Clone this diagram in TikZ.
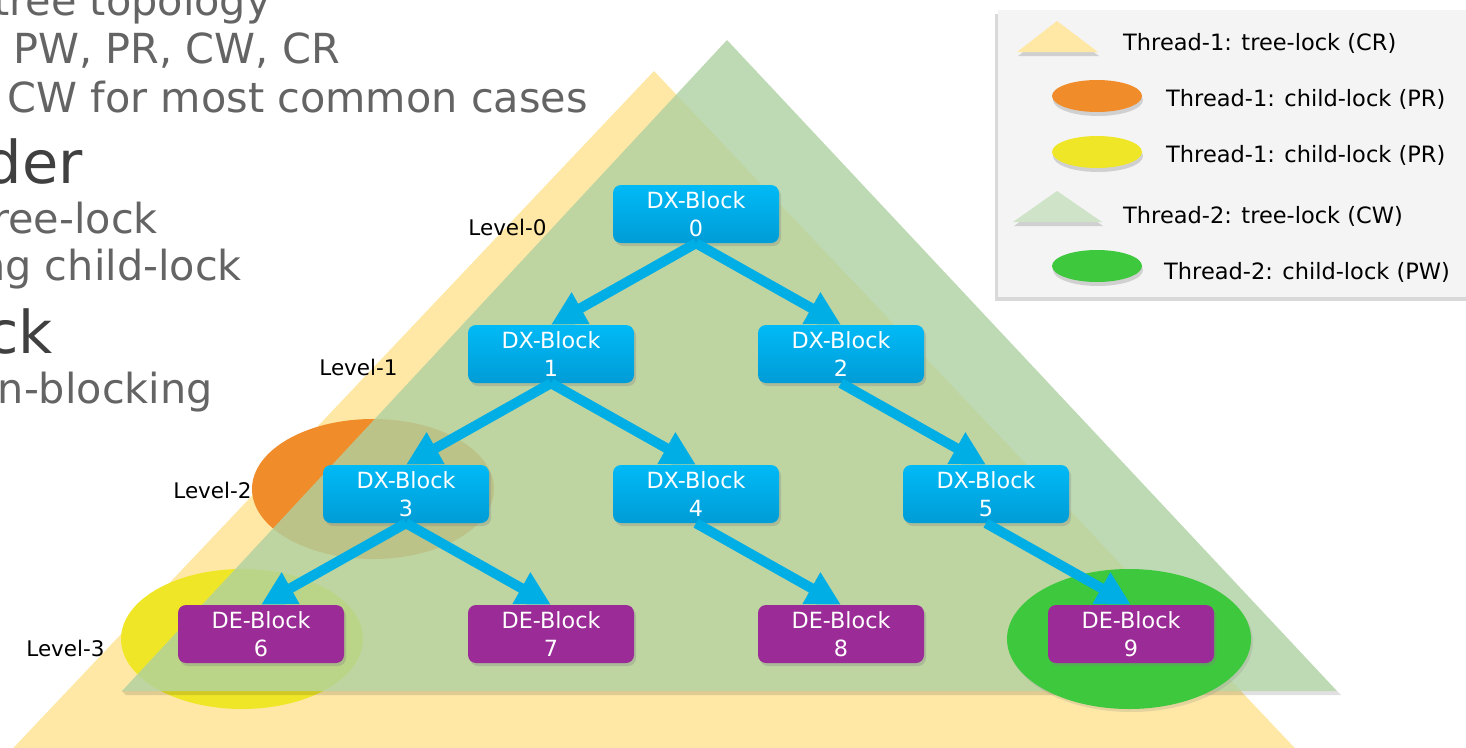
\documentclass[tikz,border=0pt]{standalone}
\usepackage{fontspec}
\setmainfont{DejaVu Sans}
\usetikzlibrary{positioning}
\usetikzlibrary{shadows}
\usetikzlibrary{arrows.meta}

\definecolor{treeyellow}{RGB}{255,232,166}
\definecolor{treegreen}{RGB}{174,209,161}
\definecolor{lockorange}{RGB}{240,140,42}
\definecolor{lockyellow}{RGB}{240,230,40}
\definecolor{lockgreen}{RGB}{62,200,62}
\definecolor{dxtop}{RGB}{0,186,246}
\definecolor{dxbot}{RGB}{0,156,214}
\definecolor{depurple}{RGB}{155,43,150}
\definecolor{arrowblue}{RGB}{0,174,230}
\definecolor{slidegray}{RGB}{100,100,100}
\definecolor{slidedark}{RGB}{64,64,64}
\definecolor{legendgray}{RGB}{244,244,244}

\tikzset{
    block/.style={rectangle, rounded corners=8pt, on grid, minimum width=166pt, minimum height=58pt,
        align=center, text=white, font=\fontsize{22.3}{28}\selectfont,
        drop shadow={shadow xshift=2pt, shadow yshift=-3pt, opacity=0.3}},
    dxblock/.style={block, top color=dxtop, bottom color=dxbot},
    deblock/.style={block, fill=depurple},
    treearrow/.style={draw=arrowblue, line width=10pt, -{Triangle[width=34pt,length=34pt]}},
    levellabel/.style={inner sep=0pt, font=\fontsize{21.5}{26}\selectfont},
    legendtext/.style={inner sep=0pt, anchor=base west, font=\fontsize{22.5}{27}\selectfont},
    legendshadow/.style={drop shadow={shadow xshift=1pt, shadow yshift=-4pt, opacity=0.3}},
    slidetext/.style={inner sep=0pt, anchor=base east, text=slidegray, font=\fontsize{41.4}{48}\selectfont},
    slidehead/.style={inner sep=0pt, anchor=base east, text=slidedark, font=\fontsize{59}{70}\selectfont},
}

\begin{document}
\begin{tikzpicture}[x=1pt, y=1pt, node distance=140pt and 145pt]
    \useasboundingbox (0,0) rectangle (1466,-747);
    \clip (0,0) rectangle (1466,-747);

    % text of the slide behind
    \node[slidetext] (s1) at (271,-15) {tree topology};
    \node[slidetext] (s2) at (340,-63) {PW, PR, CW, CR};
    \node[slidetext] (s3) at (588,-112) {CW for most common cases};
    \node[slidehead] (s4) at (83,-183) {der};
    \node[slidetext] (s5) at (158,-233) {ree-lock};
    \node[slidetext] (s6) at (242,-280) {ng child-lock};
    \node[slidehead] (s7) at (53,-353) {ck};
    \node[slidetext] (s8) at (213,-403) {n-blocking};

    % locks
    \fill[treeyellow] (654,-71) -- (1308,-762) -- (0,-762) -- cycle;
    \fill[lockorange] (373,-489) ellipse [x radius=121, y radius=70];
    \fill[lockyellow] (242,-639) ellipse [x radius=121, y radius=70];
    \fill[black, opacity=0.12] (122,-691) -- (1337,-691) -- (1341,-695) -- (126,-695) -- cycle;
    \fill[treegreen, fill opacity=0.8] (727,-40) -- (1337,-691) -- (122,-691) -- cycle;
    \fill[lockgreen, drop shadow={shadow xshift=2pt, shadow yshift=-3pt, opacity=0.2}] (1129,-639) ellipse [x radius=122, y radius=70];

    % legend
    \node[fill=legendgray, minimum width=480pt, minimum height=287pt, anchor=north west,
        drop shadow={shadow xshift=-3pt, shadow yshift=-4pt, opacity=0.3}] (legend) at (998,-10) {};
    \fill[treeyellow, legendshadow] (1017,-52) -- (1098,-52) -- (1057,-21) -- cycle;
    \fill[lockorange, legendshadow] (1097,-96) ellipse [x radius=45, y radius=16];
    \fill[lockyellow, legendshadow] (1097,-152) ellipse [x radius=45, y radius=16];
    \fill[treegreen!60!white, legendshadow] (1013,-222) -- (1102,-222) -- (1057,-191) -- cycle;
    \fill[lockgreen, legendshadow] (1097,-266) ellipse [x radius=45, y radius=16];
    \node[legendtext] (leg1) at (1123,-50) {Thread-1: tree-lock (CR)};
    \node[legendtext] (leg2) at (1166,-106) {Thread-1: child-lock (PR)};
    \node[legendtext] (leg3) at (1166,-162) {Thread-1: child-lock (PR)};
    \node[legendtext] (leg4) at (1123,-223) {Thread-2: tree-lock (CW)};
    \node[legendtext] (leg5) at (1164,-279) {Thread-2: child-lock (PW)};

    % blocks
    \node[dxblock] (dx0) at (696,-214) {DX-Block\\0};
    \node[dxblock, below left=of dx0] (dx1) {DX-Block\\1};
    \node[dxblock, below right=of dx0] (dx2) {DX-Block\\2};
    \node[dxblock, below left=of dx1] (dx3) {DX-Block\\3};
    \node[dxblock, below right=of dx1] (dx4) {DX-Block\\4};
    \node[dxblock, below right=of dx2] (dx5) {DX-Block\\5};
    \node[deblock, below left=of dx3] (de6) {DE-Block\\6};
    \node[deblock, below right=of dx3] (de7) {DE-Block\\7};
    \node[deblock, below right=of dx4] (de8) {DE-Block\\8};
    \node[deblock, below right=of dx5] (de9) {DE-Block\\9};

    \draw[treearrow] (dx0.south) -- (dx1.north);
    \draw[treearrow] (dx0.south) -- (dx2.north);
    \draw[treearrow] (dx1.south) -- (dx3.north);
    \draw[treearrow] (dx1.south) -- (dx4.north);
    \draw[treearrow] (dx2.south) -- (dx5.north);
    \draw[treearrow] (dx3.south) -- (de6.north);
    \draw[treearrow] (dx3.south) -- (de7.north);
    \draw[treearrow] (dx4.south) -- (de8.north);
    \draw[treearrow] (dx5.south) -- (de9.north);

    % levels
    \node[levellabel, left=66pt of dx0, yshift=-13pt] (lvl0) {Level-0};
    \node[levellabel, left=70pt of dx1, yshift=-13pt] (lvl1) {Level-1};
    \node[levellabel, left=71pt of dx3, yshift=4pt] (lvl2) {Level-2};
    \node[levellabel, left=73pt of de6, yshift=-14pt] (lvl3) {Level-3};
\end{tikzpicture}
\end{document}
